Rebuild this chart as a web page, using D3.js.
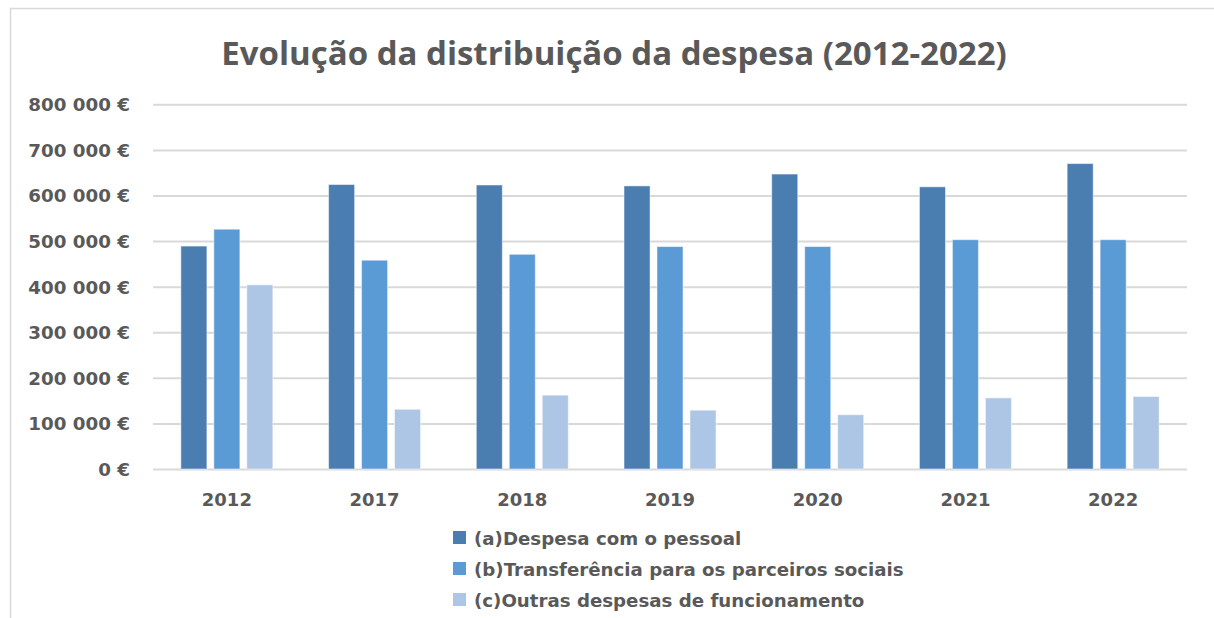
<!DOCTYPE html>
<html>
<head>
<meta charset="utf-8">
<script src="https://cdn.jsdelivr.net/npm/d3@7"></script>
<style>
  body { margin: 0; background: #fff; }
  svg { display: block; }
</style>
</head>
<body>
<svg></svg>
<script>
let years = ["2012", "2017", "2018", "2019", "2020", "2021", "2022"]
let seriesNames = ["(a)Despesa com o pessoal", "(b)Transferência para os parceiros sociais", "(c)Outras despesas de funcionamento"]
let despesaPessoal = [489000, 624000, 623000, 621000, 647000, 619000, 670000]
let transferencias = [526000, 458000, 471000, 488000, 488000, 503000, 503000]
let outrasDespesas = [404000, 131000, 162000, 129000, 119000, 156000, 159000]
let yTicks = [0, 100000, 200000, 300000, 400000, 500000, 600000, 700000, 800000]
let colors = ["#4a7eb0", "#5b9bd5", "#adc6e5"]

let width = 1214
let height = 618
let plotLeft = 153, plotRight = 1187, plotTop = 104.3, plotBottom = 469

let svg = d3.select('svg').attr("width", width).attr("height", height)

// frame
svg.append("path").attr("d", "M10.5," + height + " V8.5 H" + width)
  .attr("fill", "none").attr("stroke", "#d9d9d9").attr("stroke-width", 1.5)

svg.append("text").attr("x", 614).attr("y", 65).attr("text-anchor", "middle")
  .attr("font-family", "Open Sans").attr("font-weight", "bold").attr("font-size", 33)
  .attr("fill", "#595959").text("Evolução da distribuição da despesa (2012-2022)")

let yScale = d3.scaleLinear().domain([0, 800000]).range([plotBottom, plotTop])
let xScale = d3.scaleBand().domain(years).range([plotLeft, plotRight])
let inner = d3.scaleBand().domain([0, 1, 2]).range([xScale.bandwidth() / 2 - 46, xScale.bandwidth() / 2 + 46]).paddingInner(0.21)

let fmt = v => d3.format(",")(v).replace(/,/g, " ") + " €"

let yAxis = d3.axisLeft(yScale).tickValues(yTicks).tickSize(-(plotRight - plotLeft)).tickFormat(fmt)
let gy = svg.append("g").attr("transform", "translate(" + plotLeft + ",0)").call(yAxis)
gy.select(".domain").remove()
gy.selectAll("line").attr("stroke", "#d9d9d9").attr("stroke-width", 2)
gy.selectAll("text").attr("x", -23).attr("dy", "0.35em").attr("fill", "#595959")
  .attr("font-family", "DejaVu Sans").attr("font-weight", "bold").attr("font-size", 18.3)

let series = [despesaPessoal, transferencias, outrasDespesas]
series.forEach((vals, s) => {
  svg.append("g").selectAll("rect").data(vals).enter().append("rect")
    .attr("x", (d, i) => xScale(years[i]) + inner(s))
    .attr("width", inner.bandwidth())
    .attr("y", d => yScale(d))
    .attr("height", d => plotBottom - yScale(d))
    .attr("fill", colors[s])
    .attr("stroke", "#fff").attr("stroke-opacity", 0.5).attr("stroke-width", 1)
})

let xAxis = d3.axisBottom(xScale).tickSize(0)
let gx = svg.append("g").attr("transform", "translate(0," + plotBottom + ")").call(xAxis)
gx.select(".domain").remove()
gx.selectAll("text").attr("dy", 0).attr("y", 37).attr("fill", "#595959")
  .attr("font-family", "DejaVu Sans").attr("font-weight", "bold").attr("font-size", 18)

let legend = svg.append("g").selectAll("g").data(seriesNames).enter().append("g")
  .attr("transform", (d, i) => "translate(453," + (538 + i * 31) + ")")
legend.append("rect").attr("x", 0).attr("y", -7).attr("width", 13).attr("height", 13)
  .attr("fill", (d, i) => colors[i])
legend.append("text").attr("x", 21).attr("y", 7).attr("fill", "#595959")
  .attr("font-family", "DejaVu Sans").attr("font-weight", "bold").attr("font-size", 18.2)
  .text(d => d)
</script>
</body>
</html>
